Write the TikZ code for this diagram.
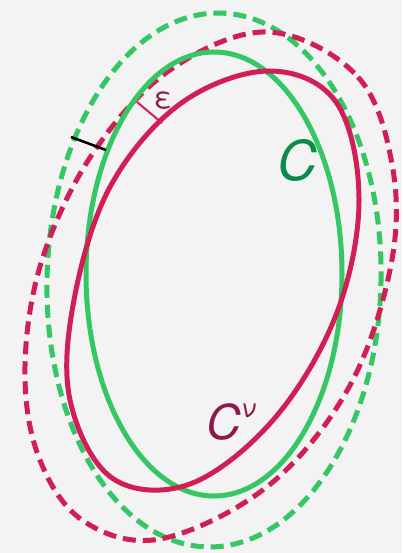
\documentclass[tikz,border=0pt]{standalone}
\usepackage{fontspec}
\setmainfont{TeX Gyre Heros}
\definecolor{bgGray}{HTML}{F3F3F3}
\definecolor{lineGreen}{HTML}{34C764}
\definecolor{lineRed}{HTML}{D11F55}
\definecolor{textGreen}{HTML}{0B8A4C}
\definecolor{textRed}{HTML}{8E1A4B}
\tikzset{
  curve/.style={line width=5pt, line join=round},
  dashcurve/.style={curve, dash pattern=on 13pt off 7pt},
  tick/.style={line width=2.5pt},
}

\begin{document}
\begin{tikzpicture}[x=1pt,y=-1pt]
    % Background and frame
    \fill[bgGray] (0,0) rectangle (402,553);
    \useasboundingbox (0,0) rectangle (402,553);

    % Outer green curve (dashed)
    \draw[dashcurve, lineGreen, rotate around={-1.5:(214,280)}]
      (214,280) ellipse [x radius=167pt, y radius=267pt];

    % Outer red curve (dashed)
    \draw[dashcurve, lineRed] plot[smooth cycle, tension=0.6] coordinates {
      (268,32) (358,77) (393,170) (390,270) (348,389) (268,486) (160,539)
      (82,520) (38,455) (25,366) (42,260) (93,153) (170,70)};

    % Curve C (green)
    \draw[curve, lineGreen] (214,274) ellipse [x radius=128pt, y radius=222pt];

    % Curve C^nu (red)
    \draw[curve, lineRed] plot[smooth cycle, tension=0.6] coordinates {
      (268,71) (336,102) (359,200) (336,315) (274,419) (190,484)
      (112,478) (70,400) (74,300) (110,187) (180,104)};

    % Distance marks
    \coordinate (epsOut) at (137,102);
    \coordinate (epsIn) at (162,123);
    \draw[lineRed, line width=2pt] (epsOut) -- (epsIn);
    \coordinate (gapOut) at (71,137);
    \coordinate (gapIn) at (106,150);
    \draw[tick, black] (gapOut) -- (gapIn);

    % Labels
    \node[text=textRed, font=\fontsize{30}{30}\selectfont] (labEps) at (163,101) {ε};
    \node[text=textGreen, font=\fontsize{55}{55}\selectfont\itshape] (labC) at (297,160) {C};
    \node[text=textRed, font=\fontsize{48}{48}\selectfont\itshape, anchor=base west, inner sep=0pt]
      (labCnu) at (206,439) {C\raisebox{22pt}{\fontsize{26}{26}\selectfont ν}};
\end{tikzpicture}
\end{document}
